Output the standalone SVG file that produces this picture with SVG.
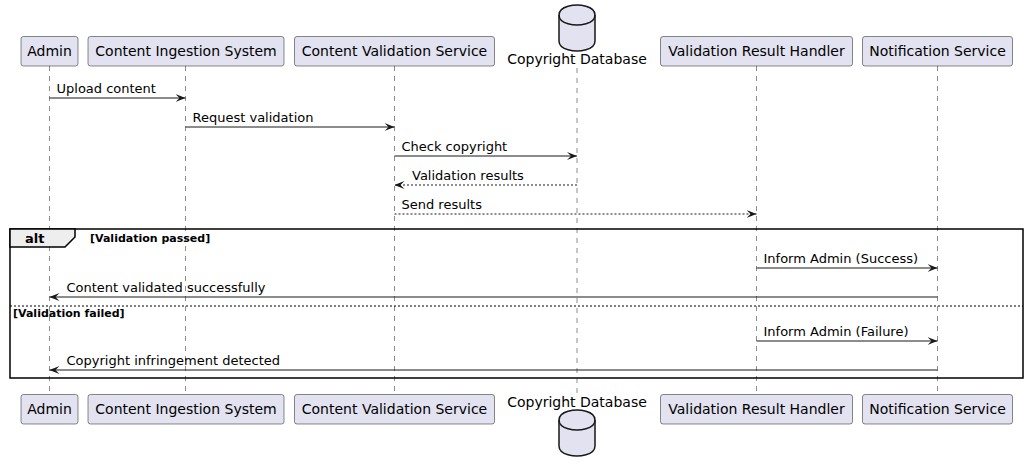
<svg xmlns="http://www.w3.org/2000/svg" width="1029" height="472" viewBox="0 0 1029 472">
<defs>
<style>
.bg{fill:#FFFFFF}
.box{fill:#E2E2F0;stroke:#181818;stroke-width:0.5}
.db{fill:#E2E2F0;stroke:#181818;stroke-width:1.5}
.lbl{font-family:"DejaVu Sans",sans-serif;font-size:14px;fill:#000000;text-anchor:middle}
.life{stroke:#181818;stroke-width:0.5;stroke-dasharray:5,5;fill:none}
.msg{stroke:#181818;stroke-width:1;fill:none}
.dash{stroke-dasharray:2,2}
.mt{font-family:"DejaVu Sans",sans-serif;font-size:13px;fill:#000000}
.frame{stroke:#000000;stroke-width:1.5;fill:none}
.tab{fill:#EEEEEE;stroke:#000000;stroke-width:1.5}
.alt{font-family:"DejaVu Sans",sans-serif;font-size:13px;font-weight:bold;fill:#000000}
.cond{font-family:"DejaVu Sans",sans-serif;font-size:11px;font-weight:bold;fill:#000000}
</style>
<marker id="ah" viewBox="0 0 10 8" refX="10" refY="4" markerWidth="10" markerHeight="8" markerUnits="userSpaceOnUse" orient="auto">
<polygon points="0,0 10,4 0,8 4,4" fill="#181818"/>
</marker>
</defs>
<rect class="bg" x="0" y="0" width="1029" height="472"/>
<g id="lifelines">
<line class="life" x1="49.5" y1="66" x2="49.5" y2="394"/>
<line class="life" x1="185.5" y1="66" x2="185.5" y2="394"/>
<line class="life" x1="394.5" y1="66" x2="394.5" y2="394"/>
<line class="life" x1="577" y1="68" x2="577" y2="394"/>
<line class="life" x1="756.5" y1="66" x2="756.5" y2="394"/>
<line class="life" x1="937.5" y1="66" x2="937.5" y2="394"/>
</g>
<g id="alt-frame">
<rect class="frame" x="10" y="229" width="1013" height="149"/>
<polygon class="tab" points="10,229 75,229 75,237 65,247 10,247"/>
<text class="alt" x="25" y="242.5">alt</text>
<text class="cond" x="90" y="242">[Validation passed]</text>
<line x1="10" y1="306" x2="1023" y2="306" stroke="#000000" stroke-width="1" stroke-dasharray="2,2"/>
<text class="cond" x="13" y="316.5">[Validation failed]</text>
</g>
<g id="p-admin">
<rect class="box" x="21" y="36.5" width="57" height="29.5" rx="2.5"/>
<text class="lbl" x="49.5" y="56">Admin</text>
<rect class="box" x="21" y="394.5" width="57" height="29.5" rx="2.5"/>
<text class="lbl" x="49.5" y="414">Admin</text>
</g>
<g id="p-cis">
<rect class="box" x="88" y="36.5" width="196" height="29.5" rx="2.5"/>
<text class="lbl" x="186" y="56">Content Ingestion System</text>
<rect class="box" x="88" y="394.5" width="196" height="29.5" rx="2.5"/>
<text class="lbl" x="186" y="414">Content Ingestion System</text>
</g>
<g id="p-cvs">
<rect class="box" x="294.5" y="36.5" width="200" height="29.5" rx="2.5"/>
<text class="lbl" x="394.5" y="56">Content Validation Service</text>
<rect class="box" x="294.5" y="394.5" width="200" height="29.5" rx="2.5"/>
<text class="lbl" x="394.5" y="414">Content Validation Service</text>
</g>
<g id="p-db">
<path class="db" d="M559,15 C559,5 577,5 577,5 C577,5 595,5 595,15 L595,41 C595,51 577,51 577,51 C577,51 559,51 559,41 Z"/>
<path class="db" fill="none" d="M559,15 C559,25 577,25 577,25 C577,25 595,25 595,15" style="fill:none"/>
<text class="lbl" x="577" y="64">Copyright Database</text>
<text class="lbl" x="577" y="407">Copyright Database</text>
<path class="db" d="M559,420 C559,410 577,410 577,410 C577,410 595,410 595,420 L595,446 C595,456 577,456 577,456 C577,456 559,456 559,446 Z"/>
<path class="db" d="M559,420 C559,430 577,430 577,430 C577,430 595,430 595,420" style="fill:none"/>
</g>
<g id="p-vrh">
<rect class="box" x="660.5" y="36.5" width="192" height="29.5" rx="2.5"/>
<text class="lbl" x="756.5" y="56">Validation Result Handler</text>
<rect class="box" x="660.5" y="394.5" width="192" height="29.5" rx="2.5"/>
<text class="lbl" x="756.5" y="414">Validation Result Handler</text>
</g>
<g id="p-ns">
<rect class="box" x="862.5" y="36.5" width="150" height="29.5" rx="2.5"/>
<text class="lbl" x="937.5" y="56">Notification Service</text>
<rect class="box" x="862.5" y="394.5" width="150" height="29.5" rx="2.5"/>
<text class="lbl" x="937.5" y="414">Notification Service</text>
</g>
<g id="connectors">
<line class="msg" x1="49.5" y1="98" x2="185.5" y2="98" marker-end="url(#ah)"/>
<text class="mt" x="56.5" y="93">Upload content</text>
<line class="msg" x1="185.5" y1="127" x2="394.5" y2="127" marker-end="url(#ah)"/>
<text class="mt" x="192.5" y="122">Request validation</text>
<line class="msg" x1="394.5" y1="156" x2="577" y2="156" marker-end="url(#ah)"/>
<text class="mt" x="401.5" y="151">Check copyright</text>
<line class="msg dash" x1="577" y1="185" x2="394.5" y2="185" marker-end="url(#ah)"/>
<text class="mt" x="412" y="180">Validation results</text>
<line class="msg dash" x1="394.5" y1="214" x2="756.5" y2="214" marker-end="url(#ah)"/>
<text class="mt" x="401.5" y="209">Send results</text>
<line class="msg" x1="756.5" y1="268" x2="937.5" y2="268" marker-end="url(#ah)"/>
<text class="mt" x="763.5" y="263">Inform Admin (Success)</text>
<line class="msg" x1="937.5" y1="297" x2="49.5" y2="297" marker-end="url(#ah)"/>
<text class="mt" x="66.5" y="292">Content validated successfully</text>
<line class="msg" x1="756.5" y1="341" x2="937.5" y2="341" marker-end="url(#ah)"/>
<text class="mt" x="763.5" y="336">Inform Admin (Failure)</text>
<line class="msg" x1="937.5" y1="370" x2="49.5" y2="370" marker-end="url(#ah)"/>
<text class="mt" x="66.5" y="365">Copyright infringement detected</text>
</g>
</svg>
